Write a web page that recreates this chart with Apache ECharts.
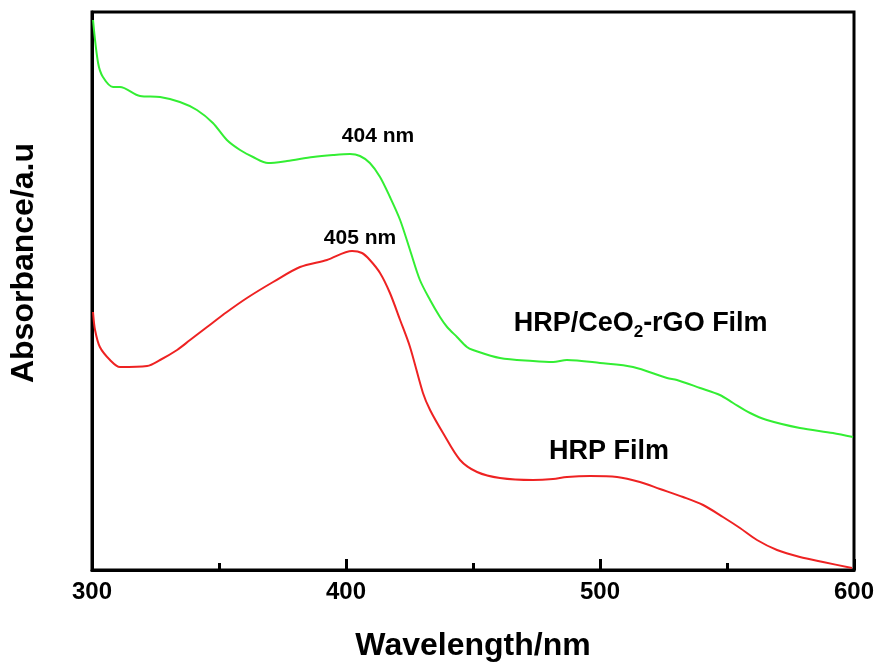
<!DOCTYPE html>
<html>
<head>
<meta charset="utf-8">
<script src="https://cdn.jsdelivr.net/npm/echarts@6/dist/echarts.min.js"></script>
<style>
  html, body { margin: 0; padding: 0; background: #fff; }
  #chart { width: 881px; height: 669px; }
</style>
</head>
<body>
<div id="chart"></div>
<script>
// HRP/CeO2-rGO film spectrum (arbitrary absorbance units)
const ceoWave = [300.4, 302.4, 304.3, 308.3, 311.0, 318.9, 326.8, 334.6, 341.3, 347.6, 353.1, 358.3, 363.4, 369.3,
  376.8, 387.0, 394.9, 401.6, 405.5, 409.4, 413.4, 417.3, 421.3, 425.2, 429.1, 433.1, 437.0, 439.8, 443.7,
  447.6, 450.0, 460.6, 473.6, 481.5, 487.0, 500.0, 513.0, 526.4, 530.3, 539.4, 547.2, 552.4, 559.1, 565.7,
  578.7, 591.7, 599.6];
const ceoAbs = [550, 507, 493, 483, 483, 474, 473, 468, 460, 447, 430, 420, 413, 407,
  409, 413, 415, 416, 414, 407, 393, 373, 350, 320, 290, 270, 253, 243, 233,
  223, 220, 212, 209, 208, 210, 207, 203, 192, 190, 182, 175, 167, 157, 150,
  142, 137, 133];

// HRP film spectrum
const hrpWave = [300.4, 301.2, 303.1, 307.1, 311.0, 321.7, 326.8, 333.5, 338.6, 345.3, 353.1, 361.0, 371.3, 381.9,
  392.5, 402.4, 406.3, 409.4, 413.4, 417.3, 421.3, 425.2, 430.3, 433.1, 438.2, 444.9, 451.6, 460.6, 473.6,
  481.5, 487.0, 496.1, 506.7, 515.7, 523.6, 532.7, 540.6, 548.4, 555.1, 561.8, 569.7, 578.7, 587.8, 599.2];
const hrpAbs = [258, 240, 223, 210, 203, 204, 210, 220, 230, 243, 258, 272, 288, 303,
  310, 319, 317, 310, 297, 277, 250, 223, 177, 160, 137, 110, 98, 92, 90,
  91, 93, 94, 93, 88, 81, 73, 65, 53, 42, 30, 20, 13, 8, 2];

// text annotations: [wavelength, absorbance, label]
const notes = [
  [412.6, 434, '{p|404 nm}'],
  [405.5, 332, '{p|405 nm}'],
  [516, 246, '{t|HRP/CeO}{s|2}{t|-rGO Film}'],
  [503.5, 118, '{t|HRP Film}']
];

const font = 'Arial, "Liberation Sans", sans-serif';

function pairs(xs, ys) {
  return xs.map((x, i) => [x, ys[i]]);
}

const chart = echarts.init(document.getElementById('chart'));
chart.setOption({
  animation: false,
  backgroundColor: '#fff',
  grid: {
    left: 92, right: 27, top: 12, bottom: 99,
    show: true, borderColor: '#000', borderWidth: 3
  },
  xAxis: {
    type: 'value',
    min: 300, max: 600, interval: 100,
    name: 'Wavelength/nm',
    nameLocation: 'middle',
    nameGap: 60,
    nameTextStyle: { fontFamily: font, fontWeight: 'bold', fontSize: 32, color: '#000' },
    axisLine: { lineStyle: { color: '#000', width: 3 } },
    axisTick: { inside: true, length: 11, lineStyle: { color: '#000', width: 3 } },
    minorTick: { show: true, splitNumber: 2, length: 7, lineStyle: { color: '#000', width: 3 } },
    axisLabel: { fontFamily: font, fontWeight: 'bold', fontSize: 24, color: '#000', margin: 10 },
    splitLine: { show: false }
  },
  yAxis: {
    type: 'value',
    min: 0, max: 558,
    name: 'Absorbance/a.u',
    nameLocation: 'middle',
    nameGap: 52,
    nameTextStyle: { fontFamily: font, fontWeight: 'bold', fontSize: 32, color: '#000', padding: [0, 0, 0, 56] },
    axisLine: { show: true, lineStyle: { color: '#000', width: 3 } },
    axisTick: { show: false },
    axisLabel: { show: false },
    splitLine: { show: false }
  },
  series: [
    {
      name: 'HRP/CeO2-rGO Film',
      type: 'line',
      data: pairs(ceoWave, ceoAbs),
      smooth: 0.3,
      showSymbol: false,
      lineStyle: { color: '#33ee33', width: 2 },
      z: 3
    },
    {
      name: 'HRP Film',
      type: 'line',
      data: pairs(hrpWave, hrpAbs),
      smooth: 0.3,
      showSymbol: false,
      lineStyle: { color: '#ee2222', width: 2 },
      z: 3
    },
    {
      type: 'scatter',
      symbolSize: 0,
      silent: true,
      itemStyle: { opacity: 1 },
      data: notes.map(n => ({ value: [n[0], n[1]], text: n[2] })),
      label: {
        show: true,
        opacity: 1,
        position: [0, 0],
        align: 'center',
        verticalAlign: 'middle',
        formatter: p => p.data.text,
        color: '#000',
        rich: {
          p: { fontFamily: font, fontWeight: 'bold', fontSize: 21, color: '#000' },
          t: { fontFamily: font, fontWeight: 'bold', fontSize: 27, color: '#000' },
          s: { fontFamily: font, fontWeight: 'bold', fontSize: 17, color: '#000', verticalAlign: 'bottom', padding: [16, 0, 0, 0] }
        }
      }
    }
  ]
});
</script>
</body>
</html>
